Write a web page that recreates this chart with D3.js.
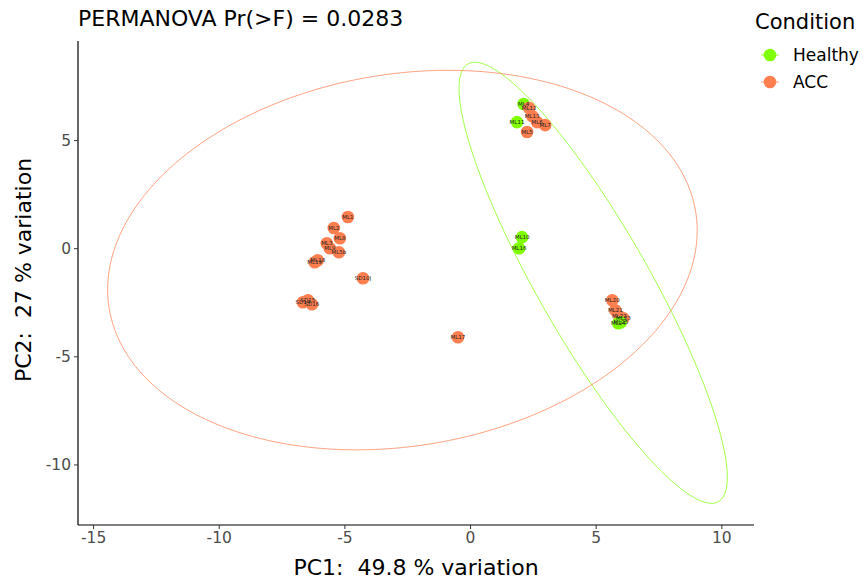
<!DOCTYPE html>
<html>
<head>
<meta charset="utf-8">
<script src="https://cdn.jsdelivr.net/npm/d3@7"></script>
<style>
  body { margin: 0; background: #fff; }
  text { font-family: "DejaVu Sans", sans-serif; white-space: pre; }
</style>
</head>
<body>
<div id="chart"></div>
<script>
// sample scores on PC1 / PC2
const sampleNames = ['ML4', 'ML11', 'ML12', 'ML13', 'ML6', 'ML7', 'ML5',
  'ML1', 'ML2', 'ML8', 'ML3', 'ML9', 'ML5b', 'ML18', 'ML19',
  'SD10J', 'ML17', 'SD14', 'SD15', 'SD16',
  'ML20', 'ML21', 'ML22', 'ML23', 'ML24', 'ML25',
  'ML10', 'ML16'];
const pc1 = [2.13, 1.87, 2.35, 2.47, 2.67, 2.99, 2.27,
  -4.86, -5.42, -5.18, -5.70, -5.58, -5.22, -6.06, -6.18,
  -4.26, -0.48, -6.65, -6.45, -6.29,
  5.66, 5.78, 5.94, 6.10, 5.90, 6.00,
  2.07, 1.95];
const pc2 = [6.67, 5.83, 6.48, 6.11, 5.83, 5.69, 5.37,
  1.44, 0.93, 0.46, 0.23, 0.00, -0.19, -0.56, -0.65,
  -1.39, -4.12, -2.50, -2.41, -2.59,
  -2.41, -2.87, -3.15, -3.24, -3.47, -3.43,
  0.51, 0.00];
const condition = ['Healthy', 'Healthy', 'ACC', 'ACC', 'ACC', 'ACC', 'ACC',
  'ACC', 'ACC', 'ACC', 'ACC', 'ACC', 'ACC', 'ACC', 'ACC',
  'ACC', 'ACC', 'ACC', 'ACC', 'ACC',
  'ACC', 'ACC', 'ACC', 'ACC', 'Healthy', 'Healthy',
  'Healthy', 'Healthy'];

// 95% ellipse per group: centre and covariance
const groups = ['Healthy', 'ACC'];
const groupColors = ['#7FFF00', '#FF7F50'];
const ellCx = [4.9, -2.69];
const ellCy = [-1.6, -0.55];
const ellSxx = [28.5, 137.6];
const ellSyy = [104, 77];
const ellSxy = [-48, 16];

const xTicks = [-15, -10, -5, 0, 5, 10];
const yTicks = [-10, -5, 0, 5];

const width = 864, height = 579;
const margin = {top: 41, right: 110, bottom: 54, left: 78};
const pw = width - margin.left - margin.right;
const ph = height - margin.top - margin.bottom;

const svg = d3.select('#chart').append('svg')
    .attr('width', width).attr('height', height);

const x = d3.scaleLinear().domain([-15.6, 11.3]).range([0, pw]);
const y = d3.scaleLinear().domain([-12.8, 9.58]).range([ph, 0]);
const color = d3.scaleOrdinal().domain(groups).range(groupColors);

const g = svg.append('g')
    .attr('transform', 'translate(' + margin.left + ',' + margin.top + ')');

// ellipses
const line = d3.line().x((d) => x(d[0])).y((d) => y(d[1]));
groups.forEach((grp, i) => {
  // cholesky of covariance
  const l11 = Math.sqrt(ellSxx[i]);
  const l21 = ellSxy[i] / l11;
  const l22 = Math.sqrt(ellSyy[i] - l21 * l21);
  const pts = d3.range(0, 201).map((k) => {
    const t = k / 200 * 2 * Math.PI;
    const c = Math.cos(t), s = Math.sin(t);
    return [ellCx[i] + l11 * c, ellCy[i] + l21 * c + l22 * s];
  });
  g.append('path')
      .attr('d', line(pts))
      .attr('fill', 'none')
      .attr('stroke', groupColors[i])
      .attr('stroke-opacity', 0.8)
      .attr('stroke-width', 0.9);
});

// axes
const xAxis = g.append('g').attr('transform', 'translate(0,' + ph + ')')
    .call(d3.axisBottom(x).tickValues(xTicks).tickFormat((d) => String(d))
        .tickSize(4).tickPadding(3));
const yAxis = g.append('g')
    .call(d3.axisLeft(y).tickValues(yTicks).tickFormat((d) => String(d))
        .tickSize(4).tickPadding(3));
[xAxis, yAxis].forEach((a) => {
  a.select('.domain').attr('stroke', '#000').attr('stroke-width', 1.2);
  a.selectAll('.tick line').attr('stroke', '#333');
  a.selectAll('.tick text').attr('fill', '#4d4d4d')
      .style('font-size', '15.5px');
});
xAxis.select('.domain').attr('d', 'M0,0H' + pw);
yAxis.select('.domain').attr('d', 'M0,' + ph + 'V0');

// points
const data = sampleNames.map((n, i) => ({name: n, x: pc1[i], y: pc2[i],
  cond: condition[i]}));

g.append('g').selectAll('circle')
    .data(data)
    .enter()
    .append('circle')
    .attr('cx', (d) => x(d.x))
    .attr('cy', (d) => y(d.y))
    .attr('r', 6.3)
    .attr('fill', (d) => color(d.cond));

g.append('g').selectAll('text')
    .data(data)
    .enter()
    .append('text')
    .attr('x', (d) => x(d.x))
    .attr('y', (d) => y(d.y) + 2)
    .attr('text-anchor', 'middle')
    .style('font-size', '5.5px')
    .attr('fill', '#222')
    .text((d) => d.name);

// titles
svg.append('text')
    .attr('x', 78).attr('y', 26)
    .style('font-size', '22px')
    .attr('fill', '#000')
    .text('PERMANOVA Pr(>F) = 0.0283');

svg.append('text')
    .attr('x', margin.left + pw / 2).attr('y', 575)
    .attr('text-anchor', 'middle')
    .style('font-size', '22px')
    .text('PC1:  49.8 % variation');

svg.append('text')
    .attr('transform', 'translate(31,270) rotate(-90)')
    .attr('text-anchor', 'middle')
    .style('font-size', '22px')
    .text('PC2:  27 % variation');

// legend
const legend = svg.append('g').attr('transform', 'translate(755,0)');
legend.append('text')
    .attr('x', 0).attr('y', 29)
    .style('font-size', '21px')
    .text('Condition');
groups.forEach((grp, i) => {
  const ly = 55 + i * 27;
  legend.append('line')
      .attr('x1', 6).attr('x2', 24).attr('y1', ly).attr('y2', ly)
      .attr('stroke', groupColors[i]).attr('stroke-width', 1)
      .attr('stroke-opacity', 0.8);
  legend.append('circle')
      .attr('cx', 15).attr('cy', ly).attr('r', 6.3)
      .attr('fill', groupColors[i]);
  legend.append('text')
      .attr('x', 38).attr('y', ly + 6)
      .style('font-size', '17px')
      .text(grp);
});
</script>
</body>
</html>
